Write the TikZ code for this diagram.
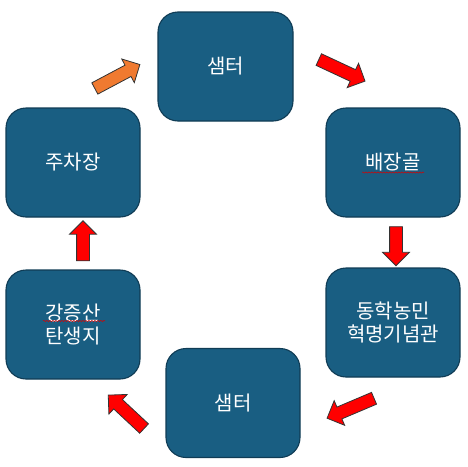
\documentclass[tikz,border=0pt]{standalone}
\usepackage{fontspec}
\newfontfamily\kr{Noto Sans CJK KR}
\usetikzlibrary{shapes.arrows, calc, decorations.pathmorphing}
\definecolor{boxblue}{HTML}{195E82}
\definecolor{boxedge}{HTML}{103C55}
\definecolor{arrred}{HTML}{FF0000}
\definecolor{arrorange}{HTML}{F07A30}
\tikzset{
    spot/.style={rectangle, rounded corners=20pt, draw=boxedge, line width=1.1pt, fill=boxblue,
        minimum width=134pt, minimum height=109pt, text=white, align=center,
        font=\kr\fontsize{20}{23}\selectfont},
    blk/.style={single arrow, draw=black!80, line width=0.8pt, inner xsep=0pt, inner ysep=6pt,
        minimum width=0pt, single arrow head extend=7pt, single arrow head indent=0pt},
    redarr/.style={blk, fill=arrred},
    orgarr/.style={blk, fill=arrorange},
    squig/.style={red!85!black, line width=0.5pt, decorate,
        decoration={snake, amplitude=0.6pt, segment length=3pt}}
}

\begin{document}
\begin{tikzpicture}[x=1pt, y=-1pt]
    \useasboundingbox (0,0) rectangle (468,466);

    % stops
    \node (top)  [spot, minimum width=135pt] at (225.5,66.5) {샘터};
    \node (park) [spot] at (73,162.5)  {주차장};
    \node (bjg)  [spot] at (393,162.5) {배장골};
    \node (dhm)  [spot] at (393,322.5) {동학농민\\혁명기념관};
    \node (kjs)  [spot] at (73,324.5)  {강증산\\탄생지};
    \node (bot)  [spot] at (233,403)   {샘터};

    % spell-check marks
    \draw[squig] ($(bjg.center)+(-31,10)$) -- ++(62,0);
    \draw[squig] ($(kjs.center)+(-30,-3.5)$) -- ++(62,0);

    % route arrows
    \node (a1) [orgarr, minimum height=51pt, rotate=28]   at (114.5,78)  {};
    \node (a2) [redarr, minimum height=51pt, rotate=-25]  at (339,69)    {};
    \node (a3) [redarr, minimum height=39pt, rotate=-90]  at (396,243)   {};
    \node (a4) [redarr, minimum height=51pt, rotate=203]  at (353.5,407) {};
    \node (a5) [redarr, minimum height=49pt, rotate=137]  at (128.5,414) {};
    \node (a6) [redarr, minimum height=40pt, rotate=90]   at (83,244)    {};
\end{tikzpicture}
\end{document}
